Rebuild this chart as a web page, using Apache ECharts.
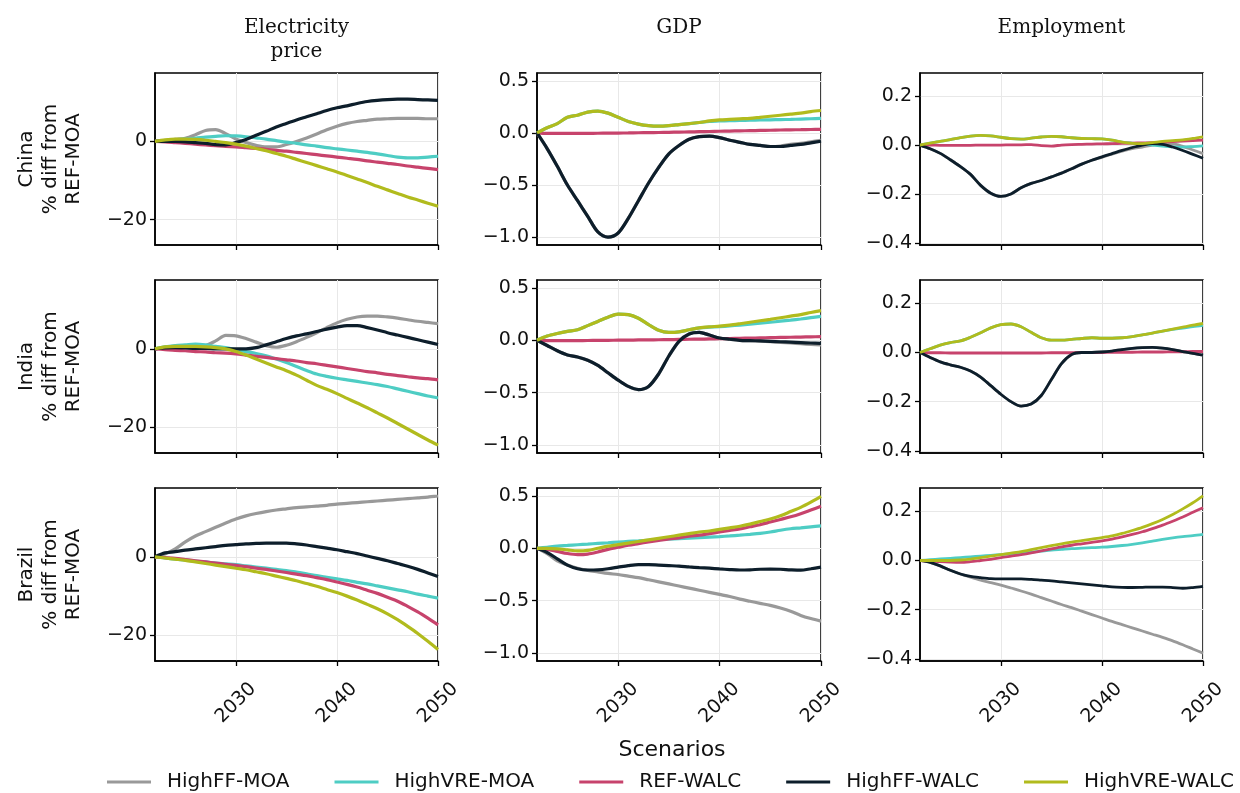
<!DOCTYPE html>
<html><head><meta charset="utf-8">
<script src="https://cdn.jsdelivr.net/npm/echarts@6/dist/echarts.min.js"></script>
<style>html,body{margin:0;padding:0;background:#fff}#c{width:1240px;height:793px}</style>
</head><body><div id="c"></div><script>
const years = [2022,2023,2024,2025,2026,2027,2028,2029,2030,2031,2032,2033,2034,2035,2036,2037,2038,2039,2040,2041,2042,2043,2044,2045,2046,2047,2048,2049,2050];
const scenarios = ['HighFF-MOA','HighVRE-MOA','REF-WALC','HighFF-WALC','HighVRE-WALC'];
const regions = ['China','India','Brazil'];
const metricTitles = ['Electricity\nprice','GDP','Employment'];
const xTicks = [2030,2040,2050];
const yTicksPrice = [-20,0];
const yTicksGDP = [-1.0,-0.5,0,0.5];
const yTicksEmp = [-0.4,-0.2,0,0.2];

// each panel: [HighFF-MOA, HighVRE-MOA, REF-WALC, HighFF-WALC, HighVRE-WALC]
const chinaPrice = [
 [0,0.2,0.5,0.8,1.7,2.8,3.0,2.0,0.6,-0.3,-1.0,-1.4,-1.4,-0.8,0.0,0.9,1.9,3.0,3.9,4.6,5.1,5.4,5.7,5.8,5.9,5.9,5.9,5.8,5.8],
 [0,0.2,0.4,0.6,0.8,1.1,1.3,1.45,1.4,1.2,0.9,0.6,0.2,-0.2,-0.5,-0.9,-1.2,-1.6,-1.9,-2.2,-2.5,-2.8,-3.2,-3.6,-4.0,-4.2,-4.2,-4.0,-3.8],
 [0,-0.1,-0.3,-0.5,-0.7,-0.9,-1.1,-1.3,-1.4,-1.6,-1.8,-2.0,-2.3,-2.5,-2.8,-3.1,-3.4,-3.7,-4.0,-4.3,-4.6,-5.0,-5.3,-5.6,-5.9,-6.3,-6.6,-6.9,-7.2],
 [0,0.0,0.0,-0.1,-0.3,-0.5,-0.8,-0.9,-0.3,0.5,1.6,2.6,3.7,4.6,5.5,6.3,7.1,7.9,8.6,9.1,9.7,10.2,10.5,10.7,10.8,10.8,10.7,10.6,10.5],
 [0,0.4,0.6,0.6,0.5,0.3,0.0,-0.3,-0.7,-1.2,-1.8,-2.4,-3.1,-3.8,-4.6,-5.4,-6.2,-7.0,-7.8,-8.7,-9.6,-10.5,-11.5,-12.4,-13.3,-14.2,-15.0,-15.8,-16.6]
];
const chinaGDP = [
 [0,-0.15,-0.32,-0.5,-0.65,-0.8,-0.95,-1.0,-0.96,-0.82,-0.65,-0.48,-0.33,-0.2,-0.12,-0.06,-0.035,-0.03,-0.045,-0.07,-0.09,-0.11,-0.12,-0.13,-0.125,-0.11,-0.1,-0.085,-0.07],
 [0,0.05,0.09,0.15,0.17,0.2,0.21,0.19,0.15,0.11,0.085,0.07,0.065,0.07,0.08,0.09,0.1,0.11,0.115,0.118,0.12,0.122,0.124,0.126,0.128,0.13,0.133,0.136,0.14],
 [0,-0.005,-0.005,-0.005,-0.005,-0.004,-0.003,-0.002,-0.001,0,0.002,0.003,0.004,0.006,0.008,0.01,0.012,0.014,0.016,0.018,0.02,0.022,0.024,0.026,0.028,0.03,0.031,0.033,0.035],
 [0,-0.15,-0.32,-0.5,-0.65,-0.8,-0.95,-1.0,-0.96,-0.82,-0.65,-0.48,-0.33,-0.2,-0.12,-0.06,-0.035,-0.03,-0.045,-0.07,-0.09,-0.11,-0.12,-0.13,-0.13,-0.12,-0.11,-0.095,-0.08],
 [0,0.05,0.09,0.15,0.17,0.2,0.21,0.19,0.15,0.11,0.085,0.07,0.065,0.07,0.08,0.09,0.1,0.115,0.125,0.13,0.135,0.14,0.15,0.16,0.17,0.18,0.19,0.205,0.215]
];
const chinaEmp = [
 [0,-0.015,-0.034,-0.06,-0.088,-0.12,-0.165,-0.197,-0.21,-0.2,-0.175,-0.157,-0.145,-0.13,-0.115,-0.097,-0.078,-0.062,-0.05,-0.037,-0.025,-0.015,-0.008,0.0,0.005,0.005,-0.005,-0.02,-0.035],
 [0,0.008,0.015,0.022,0.03,0.037,0.04,0.038,0.032,0.026,0.024,0.028,0.033,0.036,0.034,0.03,0.027,0.026,0.025,0.02,0.012,0.008,0.005,0.0,-0.004,-0.007,-0.008,-0.006,-0.003],
 [0,0,-0.001,-0.001,-0.001,-0.001,0,0,0,0.001,0.001,0.002,-0.002,-0.004,0,0.002,0.003,0.004,0.005,0.006,0.007,0.008,0.009,0.01,0.012,0.014,0.016,0.018,0.02],
 [0,-0.015,-0.034,-0.06,-0.088,-0.12,-0.165,-0.197,-0.21,-0.2,-0.175,-0.157,-0.145,-0.13,-0.115,-0.097,-0.078,-0.062,-0.048,-0.035,-0.022,-0.01,0.0,0.006,0.003,-0.008,-0.022,-0.038,-0.054],
 [0,0.008,0.015,0.022,0.03,0.037,0.04,0.038,0.032,0.026,0.024,0.028,0.033,0.036,0.034,0.03,0.027,0.026,0.025,0.02,0.012,0.007,0.006,0.01,0.015,0.018,0.021,0.027,0.034]
];
const indiaPrice = [
 [0,0.4,0.6,0.6,0.5,0.8,2.0,3.4,3.3,2.6,1.7,0.8,0.4,0.9,1.8,2.9,4.1,5.4,6.6,7.5,8.1,8.3,8.3,8.1,7.8,7.4,7.0,6.7,6.4],
 [0,0.5,0.8,1.0,1.2,1.0,0.6,0.3,-0.2,-0.7,-1.2,-1.8,-2.6,-3.5,-4.5,-5.5,-6.4,-7.0,-7.5,-7.9,-8.3,-8.7,-9.1,-9.6,-10.2,-10.8,-11.4,-12.0,-12.5],
 [0,-0.2,-0.4,-0.5,-0.7,-0.8,-1.0,-1.1,-1.3,-1.6,-1.9,-2.2,-2.5,-2.8,-3.1,-3.5,-3.8,-4.2,-4.6,-5.0,-5.4,-5.8,-6.1,-6.5,-6.8,-7.1,-7.4,-7.6,-7.9],
 [0,0.2,0.3,0.2,0.1,0.1,0.0,0.0,0.0,0.0,0.3,1.0,1.8,2.6,3.3,3.8,4.4,5.0,5.5,5.9,5.9,5.4,4.8,4.1,3.5,2.9,2.3,1.7,1.1],
 [0,0.5,0.6,0.6,0.6,0.5,0.3,0.0,-0.7,-1.6,-2.6,-3.6,-4.6,-5.6,-6.7,-8.0,-9.3,-10.3,-11.4,-12.6,-13.8,-15.0,-16.3,-17.6,-19.0,-20.4,-21.8,-23.2,-24.5]
];
const indiaGDP = [
 [0,-0.05,-0.1,-0.14,-0.16,-0.19,-0.24,-0.31,-0.38,-0.44,-0.47,-0.44,-0.32,-0.15,-0.01,0.06,0.075,0.05,0.022,0.01,0.0,-0.004,-0.008,-0.013,-0.02,-0.026,-0.033,-0.04,-0.045],
 [0,0.04,0.065,0.085,0.1,0.14,0.18,0.22,0.25,0.245,0.21,0.15,0.095,0.075,0.08,0.1,0.118,0.125,0.13,0.137,0.145,0.155,0.163,0.172,0.182,0.192,0.203,0.216,0.228],
 [0,-0.003,-0.004,-0.004,-0.003,-0.002,-0.001,0,0.001,0.002,0.003,0.004,0.005,0.006,0.008,0.01,0.011,0.013,0.015,0.017,0.019,0.021,0.023,0.025,0.027,0.029,0.031,0.033,0.035],
 [0,-0.05,-0.1,-0.14,-0.16,-0.19,-0.24,-0.31,-0.38,-0.44,-0.47,-0.44,-0.32,-0.15,-0.01,0.06,0.075,0.05,0.022,0.01,0.0,-0.003,-0.006,-0.01,-0.014,-0.018,-0.022,-0.026,-0.03],
 [0,0.04,0.065,0.085,0.1,0.14,0.18,0.22,0.25,0.245,0.21,0.15,0.095,0.075,0.08,0.1,0.118,0.128,0.135,0.145,0.158,0.172,0.186,0.2,0.215,0.23,0.245,0.265,0.283]
];
const indiaEmp = [
 [0,-0.02,-0.038,-0.05,-0.06,-0.075,-0.1,-0.135,-0.17,-0.2,-0.218,-0.21,-0.175,-0.11,-0.045,-0.008,0.0,0.0,0.002,0.006,0.012,0.017,0.02,0.021,0.018,0.012,0.004,-0.004,-0.011],
 [0,0.015,0.03,0.04,0.047,0.062,0.08,0.1,0.113,0.116,0.105,0.082,0.06,0.05,0.05,0.053,0.057,0.06,0.058,0.058,0.06,0.065,0.072,0.079,0.087,0.094,0.099,0.105,0.11],
 [0,-0.001,-0.001,-0.002,-0.002,-0.002,-0.002,-0.002,-0.002,-0.002,-0.002,-0.002,-0.002,-0.001,-0.001,-0.001,0,0,0,0.001,0.001,0.001,0.002,0.002,0.002,0.003,0.003,0.004,0.004],
 [0,-0.02,-0.038,-0.05,-0.06,-0.075,-0.1,-0.135,-0.17,-0.2,-0.218,-0.21,-0.175,-0.11,-0.045,-0.008,0.0,0.0,0.002,0.006,0.012,0.017,0.02,0.021,0.018,0.012,0.004,-0.004,-0.011],
 [0,0.015,0.03,0.04,0.047,0.062,0.08,0.1,0.113,0.116,0.105,0.082,0.06,0.05,0.05,0.053,0.057,0.06,0.058,0.058,0.06,0.065,0.072,0.079,0.087,0.095,0.103,0.111,0.118]
];
const brazilPrice = [
 [0,0.7,2.0,3.8,5.3,6.4,7.5,8.6,9.6,10.4,11.0,11.5,11.9,12.2,12.5,12.7,12.9,13.1,13.4,13.6,13.8,14.0,14.2,14.4,14.6,14.8,15.0,15.2,15.5],
 [0,-0.3,-0.6,-0.8,-1.1,-1.3,-1.6,-1.8,-2.0,-2.3,-2.6,-2.9,-3.2,-3.5,-3.9,-4.3,-4.8,-5.2,-5.6,-6.0,-6.5,-6.9,-7.4,-7.9,-8.4,-8.9,-9.5,-10.0,-10.5],
 [0,-0.2,-0.4,-0.7,-1.0,-1.3,-1.6,-1.9,-2.2,-2.5,-2.9,-3.2,-3.6,-4.0,-4.4,-4.8,-5.3,-5.8,-6.4,-7.0,-7.7,-8.5,-9.3,-10.3,-11.3,-12.6,-14.0,-15.6,-17.3],
 [0,1.0,1.3,1.7,2.0,2.3,2.6,2.9,3.1,3.3,3.4,3.5,3.5,3.5,3.3,3.0,2.6,2.2,1.8,1.3,0.8,0.2,-0.4,-1.0,-1.7,-2.4,-3.2,-4.1,-5.0],
 [0,-0.3,-0.6,-0.9,-1.3,-1.7,-2.1,-2.5,-2.9,-3.3,-3.8,-4.3,-4.9,-5.5,-6.1,-6.8,-7.5,-8.3,-9.1,-10.0,-11.0,-12.1,-13.2,-14.5,-16.0,-17.7,-19.5,-21.5,-23.6]
];
const brazilGDP = [
 [0,-0.05,-0.12,-0.16,-0.19,-0.21,-0.225,-0.24,-0.25,-0.265,-0.28,-0.3,-0.32,-0.34,-0.36,-0.38,-0.4,-0.42,-0.44,-0.46,-0.485,-0.505,-0.525,-0.545,-0.57,-0.6,-0.64,-0.67,-0.695],
 [0,0.01,0.02,0.027,0.034,0.04,0.047,0.053,0.06,0.065,0.07,0.076,0.082,0.087,0.092,0.097,0.102,0.107,0.112,0.118,0.125,0.133,0.142,0.155,0.172,0.186,0.195,0.205,0.213],
 [0,-0.01,-0.03,-0.05,-0.06,-0.055,-0.035,-0.01,0.01,0.03,0.045,0.06,0.075,0.09,0.1,0.115,0.125,0.14,0.155,0.17,0.185,0.205,0.225,0.25,0.275,0.3,0.33,0.365,0.4],
 [0,-0.04,-0.1,-0.16,-0.195,-0.207,-0.205,-0.195,-0.18,-0.165,-0.155,-0.155,-0.16,-0.165,-0.17,-0.178,-0.185,-0.19,-0.197,-0.203,-0.207,-0.205,-0.2,-0.198,-0.2,-0.205,-0.208,-0.195,-0.18],
 [0,0.0,-0.005,-0.015,-0.025,-0.02,0.0,0.02,0.035,0.05,0.065,0.08,0.095,0.11,0.125,0.14,0.155,0.165,0.18,0.195,0.21,0.23,0.255,0.28,0.31,0.35,0.39,0.44,0.495]
];
const brazilEmp = [
 [0,-0.008,-0.022,-0.04,-0.055,-0.068,-0.08,-0.09,-0.1,-0.112,-0.124,-0.137,-0.151,-0.165,-0.179,-0.192,-0.206,-0.22,-0.234,-0.248,-0.261,-0.274,-0.287,-0.3,-0.313,-0.327,-0.343,-0.36,-0.377],
 [0,0.003,0.006,0.009,0.012,0.015,0.018,0.021,0.024,0.027,0.03,0.034,0.038,0.042,0.045,0.048,0.05,0.052,0.054,0.057,0.061,0.066,0.072,0.079,0.086,0.092,0.097,0.101,0.106],
 [0,-0.002,-0.005,-0.007,-0.008,-0.005,0.0,0.005,0.012,0.018,0.024,0.031,0.039,0.047,0.055,0.062,0.068,0.074,0.08,0.087,0.096,0.106,0.117,0.13,0.144,0.16,0.177,0.196,0.215],
 [0,-0.008,-0.022,-0.04,-0.055,-0.065,-0.07,-0.074,-0.075,-0.075,-0.075,-0.077,-0.08,-0.083,-0.087,-0.091,-0.095,-0.099,-0.103,-0.107,-0.109,-0.11,-0.109,-0.108,-0.108,-0.11,-0.113,-0.11,-0.105],
 [0,0.0,0.0,0.0,0.002,0.006,0.012,0.018,0.024,0.03,0.036,0.044,0.052,0.06,0.068,0.075,0.081,0.087,0.093,0.1,0.11,0.122,0.135,0.15,0.167,0.187,0.21,0.235,0.263]
];

const panels = [
  [chinaPrice, chinaGDP, chinaEmp],
  [indiaPrice, indiaGDP, indiaEmp],
  [brazilPrice, brazilGDP, brazilEmp]
];

// ---- styling / layout ----
const colors = ['#999999','#4ecdc4','#c7436c','#0d1e2b','#b1bb1d'];
const colLeft = [155, 537, 920];
const colWidth = [283, 284, 283];
const rowTop = [73, 280, 488];
const rowHeight = [172, 173, 173];
const yRange = [[-26.5, 17.5], [-1.075, 0.575], [-0.409, 0.295]];
const yTicks = [yTicksPrice, yTicksGDP, yTicksEmp];
const yDecimals = [0, 1, 1];
const lineW = [3.2, 3.2, 2.8];
const FONT = 'DejaVu Sans';

function fmt(v, d) {
  let s = Math.abs(v).toFixed(d);
  if (v < 0 && parseFloat(s) !== 0) s = '\u2212' + s;
  return s;
}

const grid = [], xAxis = [], yAxis = [], series = [];
for (let r = 0; r < 3; r++) {
  for (let c = 0; c < 3; c++) {
    const idx = r * 3 + c;
    grid.push({left: colLeft[c], top: rowTop[r], width: colWidth[c], height: rowHeight[r],
      show: true, borderColor: '#000', borderWidth: 1.5, backgroundColor: 'transparent', containLabel: false});
    xAxis.push({
      type: 'value', gridIndex: idx, min: 2022, max: 2050,
      axisLine: {show: true, onZero: false, lineStyle: {color: '#000', width: 1.5}},
      axisTick: {show: true, customValues: xTicks, length: 5, lineStyle: {color: '#000', width: 1.3}},
      axisLabel: {show: r === 2, customValues: xTicks, rotate: 45, align: 'center', verticalAlign: 'middle',
        margin: 42, fontSize: 19, fontFamily: FONT, color: '#111', formatter: v => String(v)},
      splitLine: {show: true, lineStyle: {color: '#e8e8e8', width: 1}}
    });
    yAxis.push({
      type: 'value', gridIndex: idx, min: yRange[c][0], max: yRange[c][1],
      axisLine: {show: true, onZero: false, lineStyle: {color: '#000', width: 1.5}},
      axisTick: {show: true, customValues: yTicks[c], length: 5, lineStyle: {color: '#000', width: 1.3}},
      axisLabel: {show: true, customValues: yTicks[c], margin: 8, fontSize: 19, fontFamily: FONT, color: '#111',
        formatter: v => fmt(v, yDecimals[c])},
      splitLine: {show: true, lineStyle: {color: '#e8e8e8', width: 1}}
    });
    const pd = panels[r][c];
    for (let s = 0; s < scenarios.length; s++) {
      series.push({
        type: 'line', name: scenarios[s], xAxisIndex: idx, yAxisIndex: idx,
        data: years.map((y, i) => [y, pd[s][i]]),
        showSymbol: false, smooth: 0.3, clip: true,
        lineStyle: {color: colors[s], width: lineW[c]},
        itemStyle: {color: colors[s]},
        emphasis: {disabled: true}, animation: false
      });
    }
  }
}

const graphic = [];
const titleCenters = colLeft.map((l, i) => l + colWidth[i] / 2);
metricTitles.forEach((t, i) => {
  t.split('\n').forEach((line, j) => {
    graphic.push({type: 'text', x: titleCenters[i], y: 28 + j * 24,
      style: {text: line, font: '20px "DejaVu Serif"', fill: '#111', textAlign: 'center', textVerticalAlign: 'middle'}});
  });
});
regions.forEach((reg, r) => {
  const cy = rowTop[r] + rowHeight[r] / 2;
  const lines = [reg, '% diff from', 'REF-MOA'];
  lines.forEach((line, j) => {
    graphic.push({type: 'text', x: 27 + j * 23.3, y: cy, rotation: Math.PI / 2,
      style: {text: line, font: '20px "DejaVu Sans"', fill: '#111', textAlign: 'center', textVerticalAlign: 'middle'}});
  });
});
graphic.push({type: 'text', x: 672, y: 750,
  style: {text: 'Scenarios', font: '22px "DejaVu Sans"', fill: '#111', textAlign: 'center', textVerticalAlign: 'middle'}});

const chart = echarts.init(document.getElementById('c'), null, {renderer: 'canvas'});
chart.setOption({
  animation: false,
  backgroundColor: '#fff',
  grid, xAxis, yAxis, series, graphic,
  legend: {
    data: scenarios, left: 107, top: 772, width: 1200, padding: 0, orient: 'horizontal',
    icon: 'rect', itemWidth: 44, itemHeight: 3, itemGap: 45,
    selectedMode: false,
    textStyle: {fontSize: 20, fontFamily: FONT, color: '#111', padding: [0, 0, 0, 11]}
  }
});
</script></body></html>
